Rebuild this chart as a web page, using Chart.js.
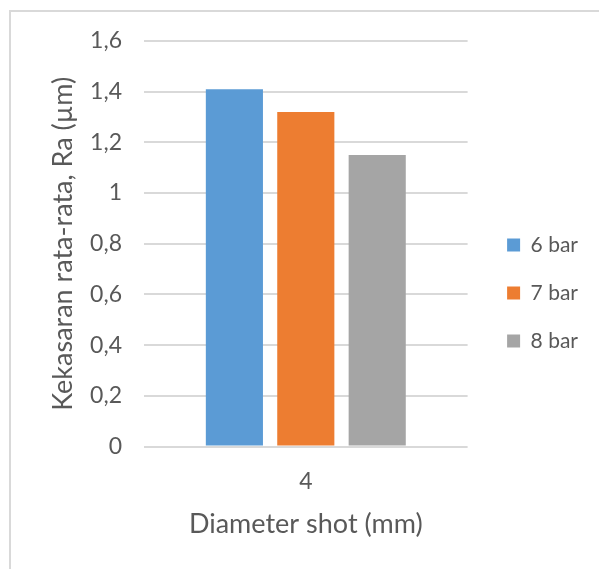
<!DOCTYPE html>
<html>
<head>
<meta charset="utf-8">
<script src="https://cdn.jsdelivr.net/npm/chart.js@4"></script>
<style>
  html, body { margin: 0; padding: 0; background: #ffffff; }
  #wrap { position: relative; width: 599px; height: 569px; overflow: hidden; }
  #frame {
    position: absolute; left: 9px; top: 10px; width: 700px; height: 700px;
    border-left: 2px solid #d9d9d9; border-top: 2px solid #d9d9d9;
  }
  canvas { position: absolute; left: 0; top: 0; }
</style>
</head>
<body>
<div id="wrap">
  <div id="frame"></div>
  <canvas id="myChart" width="599" height="569"></canvas>
</div>
<script>
// Kategori sumbu x
const categories = ["4"];

// Nilai Ra per tekanan
const seriesNames = ["6 bar", "7 bar", "8 bar"];
const ra6bar = [1.41];
const ra7bar = [1.32];
const ra8bar = [1.15];

const seriesColors = ["#5b9bd5", "#ed7d31", "#a5a5a5"];

// Label sumbu y (desimal pakai koma)
const yTickLabels = ["0", "0,2", "0,4", "0,6", "0,8", "1", "1,2", "1,4", "1,6"];

const textColor = "#595959";
const fontFamily = "Lato, 'Open Sans', sans-serif";

const ctx = document.getElementById("myChart");

const myChart = new Chart(ctx, {

    type: "bar",

    data: {
        labels: categories,
        datasets: [ra6bar, ra7bar, ra8bar].map((values, i) => ({
            label: seriesNames[i],
            data: values,
            backgroundColor: seriesColors[i],
            categoryPercentage: 0.662,
            barPercentage: 0.8
        }))
    },

    options: {
        responsive: false,
        animation: false,
        events: [],
        layout: {
            padding: { left: 47, top: 41, right: 11, bottom: 24 }
        },
        plugins: {
            tooltip: { enabled: false },
            legend: {
                position: "right",
                maxWidth: 140,
                labels: {
                    boxWidth: 13,
                    boxHeight: 13,
                    padding: 27,
                    color: textColor,
                    font: { family: fontFamily, size: 21 }
                }
            }
        },
        scales: {
            x: {
                grid: { display: false, drawTicks: false },
                border: { display: false },
                ticks: {
                    padding: 21,
                    color: textColor,
                    font: { family: fontFamily, size: 23 }
                },
                title: {
                    display: true,
                    text: "Diameter shot (mm)",
                    color: textColor,
                    padding: { top: 13, bottom: 5 },
                    font: { family: fontFamily, size: 27 }
                },
                afterFit: (scale) => { scale.height = 98.5; }
            },
            y: {
                min: 0,
                max: 1.6,
                border: { display: false },
                grid: {
                    color: "#d9d9d9",
                    lineWidth: 2,
                    drawTicks: false
                },
                ticks: {
                    stepSize: 0.2,
                    padding: 22,
                    color: textColor,
                    font: { family: fontFamily, size: 23 },
                    callback: (value, index) => yTickLabels[index]
                },
                title: {
                    display: true,
                    text: "Kekasaran rata-rata, Ra (µm)",
                    color: textColor,
                    padding: { top: 0, bottom: 0 },
                    font: { family: fontFamily, size: 27 }
                },
                afterFit: (scale) => { scale.width = 97; }
            },
            // sumbu kosong untuk jarak antara plot dan legenda
            gap: {
                type: "linear",
                position: "right",
                display: true,
                grid: { display: false },
                border: { display: false },
                ticks: { display: false },
                afterFit: (scale) => { scale.width = 12.5; }
            }
        }
    }

});
</script>
</body>
</html>
